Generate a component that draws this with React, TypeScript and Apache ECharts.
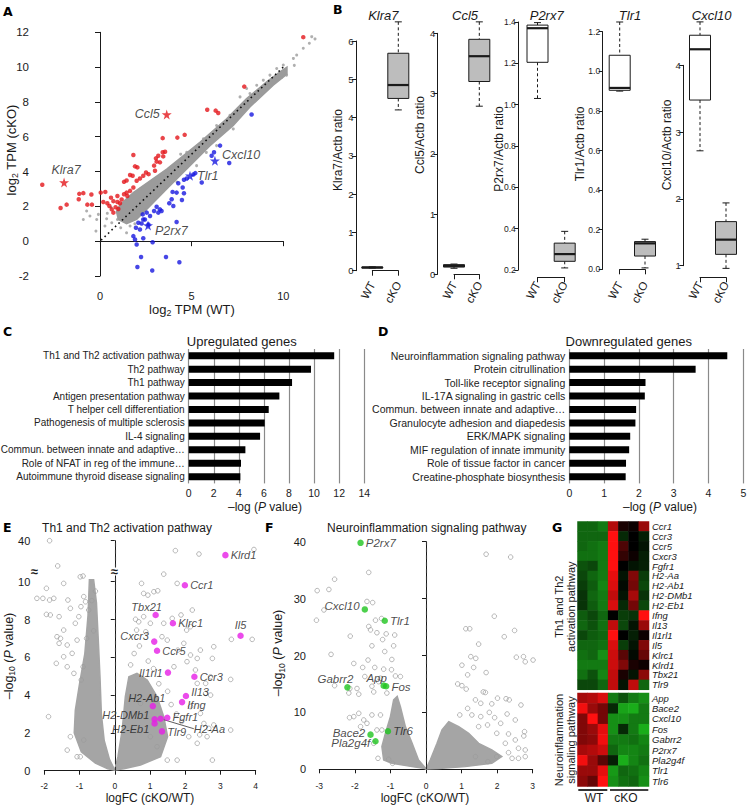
import React, { useEffect, useRef } from 'react';
import * as echarts from 'echarts';

// ---------------- Panel A: log2 TPM scatter ----------------
const aDenseBand = [[1.0,1.25],[0.9,1.7],[1.09,2.1],[1.82,2.79],[3.64,4.14],[5.45,5.68],[6.91,7.03],[8.0,8.19],[9.09,9.15],[9.82,9.73],[10.2,10.0],[10.2,9.6],[9.45,8.96],[8.18,7.71],[7.27,6.65],[6.0,5.49],[4.91,4.34],[3.64,3.0],[2.73,2.02],[2.0,1.25],[1.45,1.0]];
const aGray = [[-0.73,1.73],[-0.55,1.45],[-0.18,1.25],[-0.22,0.58],[0.27,0.87],[0.64,1.06],[-0.09,1.54],[0.36,1.29],[0.95,1.25],[-0.91,1.25],[1.13,0.77],[1.45,0.48],[1.64,0.87],[8.55,8.96],[8.91,9.25],[9.27,9.54],[9.64,9.92],[10.0,10.12],[10.18,9.54],[10.55,10.5],[10.73,10.69],[11.09,11.08],[11.42,11.37],[11.55,11.75],[11.73,11.62],[8.18,8.48],[8.0,8.77],[7.64,8.29],[2.73,2.79],[2.18,2.41],[4.73,5.11],[5.64,5.88],[6.36,6.65],[7.09,7.23],[7.27,6.45],[6.36,5.49],[5.27,4.34],[0.6,1.95],[0.4,1.6],[1.9,1.0],[2.4,1.8],[4.2,3.4],[3.0,2.5],[5.8,5.1],[8.6,8.2],[9.9,9.4],[10.6,10.1],[2.2,3.0],[4.4,5.0]];
const aUp = [[-3.15,3.24],[-2.15,1.91],[-1.82,2.1],[-1.13,2.72],[-0.91,2.76],[-1.16,2.41],[-0.69,2.1],[-0.44,2.1],[-0.47,2.68],[0.04,2.79],[0.29,2.83],[0.18,2.25],[0.4,2.18],[0.51,2.02],[0.64,1.83],[0.73,1.64],[0.95,2.25],[1.09,2.18],[1.31,3.41],[1.45,2.79],[1.64,2.89],[1.82,3.08],[1.91,4.3],[1.82,4.95],[2.04,4.24],[1.64,3.8],[1.78,3.76],[1.45,3.49],[2.0,3.47],[2.18,3.6],[2.36,3.76],[2.51,3.95],[2.65,3.85],[2.95,4.34],[3.09,4.57],[3.0,4.05],[3.27,4.53],[3.42,5.11],[3.45,4.87],[3.55,5.14],[3.05,4.76],[3.18,4.91],[3.42,5.92],[4.22,5.95],[4.62,6.11],[5.85,7.55],[6.31,7.5],[6.45,7.36],[7.87,8.88],[11.09,11.72],[0.73,2.3],[0.95,2.6],[1.18,2.4],[1.31,2.7],[1.49,2.6],[0.85,1.95],[1.0,1.85],[0.6,2.5]];
const aDown = [[6.09,4.91],[6.22,5.11],[6.55,5.49],[7.05,4.49],[8.27,7.28],[4.73,3.6],[4.58,3.53],[5.09,3.83],[5.2,3.91],[5.55,3.37],[4.27,3.33],[4.51,3.08],[4.18,2.79],[3.96,2.83],[4.58,2.75],[3.91,2.41],[3.78,2.18],[4.0,2.02],[4.47,2.37],[3.09,1.98],[3.27,1.83],[3.36,1.73],[3.18,1.64],[2.95,1.73],[2.55,1.64],[2.73,1.45],[2.45,1.25],[2.27,1.02],[2.64,0.96],[2.33,1.54],[2.36,1.25],[2.09,1.06],[1.96,0.77],[2.18,0.67],[1.82,0.29],[1.91,0.1],[2.0,-0.19],[2.36,0.17],[4.18,1.1],[2.87,-0.06],[2.24,-0.91],[3.6,-0.91],[4.33,-1.21],[2.04,-1.48],[2.85,-1.68]];
const aStarNames = ['Klra7', 'Ccl5', 'Cxcl10', 'Tlr1', 'P2rx7'];
const aStarWT = [-1.96, 3.64, 6.27, 4.91, 2.62];
const aStarKO = [3.37, 7.28, 4.62, 3.76, 0.9];
const aStarUp = [true, true, false, false, false];
const aDiagonal = [[-2.6, -2.6], [11.8, 11.8]];

// ---------------- Panel B: qPCR boxplots [min, q1, median, q3, max] ----------------
const bGenes = ['Klra7', 'Ccl5', 'P2rx7', 'Tlr1', 'Cxcl10'];
const bGroups = ['WT', 'cKO'];
const bKlra7 = [[0.07, 0.075, 0.085, 0.095, 0.1], [4.2, 4.5, 4.85, 5.68, 6.5]];
const bCcl5 = [[0.1, 0.12, 0.14, 0.16, 0.17], [2.79, 3.2, 3.62, 3.9, 4.19]];
const bP2rx7 = [[1.03, 1.205, 1.37, 1.385, 1.397], [0.21, 0.242, 0.277, 0.33, 0.387]];
const bTlr1 = [[0.9, 0.904, 0.916, 1.081, 1.249], [0.007, 0.067, 0.131, 0.14, 0.152]];
const bCxcl10 = [[2.72, 3.48, 4.24, 4.45, 4.65], [0.96, 1.17, 1.39, 1.66, 1.94]];
const bYMin = [0, 0, 0.2, 0, 1];
const bYMax = [6, 4, 1.4, 1.2, 4];
const bYStep = [1, 1, 0.2, 0.2, 1];

// ---------------- Panels C/D: pathway enrichment ----------------
const cPathways = ['Th1 and Th2 activation pathway', 'Th2 pathway', 'Th1 pathway', 'Antigen presentation pathway', 'T helper cell differentiation', 'Pathogenesis of multiple sclerosis', 'IL-4 signaling', 'Commun. between innate and adaptive…', 'Role of NFAT in reg of the immune…', 'Autoimmune thyroid disease signaling'];
const cValues = [11.6, 9.75, 8.24, 7.23, 6.38, 6.06, 5.69, 4.52, 4.17, 4.12];
const dPathways = ['Neuroinflammation signaling pathway', 'Protein citrullination', 'Toll-like receptor signaling', 'IL-17A signaling in gastric cells', 'Commun. between innate and adaptive…', 'Granulocyte adhesion and diapedesis', 'ERK/MAPK signaling', 'MIF regulation of innate immunity', 'Role of tissue factor in cancer', 'Creatine-phosphate biosynthesis'];
const dValues = [4.54, 3.63, 2.19, 2.17, 1.92, 1.9, 1.75, 1.72, 1.63, 1.62];

// ---------------- Panel E: volcano, Th1/Th2 ----------------
const eDenseLeft = [[0,0.03],[-0.15,0.6],[-0.3,1.6],[-0.38,3.0],[-0.42,5.0],[-0.47,7.0],[-0.52,8.9],[-0.6,10.1],[-0.72,10.1],[-0.76,8.2],[-0.85,6.2],[-1.0,4.6],[-1.12,3.2],[-1.15,2.0],[-0.95,1.0],[-0.55,0.4],[-0.2,0.1]];
const eDenseRight = [[0,0.03],[0.09,0.74],[0.21,2.15],[0.3,3.92],[0.4,4.97],[0.63,5.15],[0.92,4.8],[1.2,3.92],[1.39,2.86],[1.5,1.8],[1.3,0.74],[0.73,0.3],[0.26,0.1]];
const eOther = [[-1.85,40],[1.72,36.5],[2.39,35.3],[3.95,36.9],[-1.62,31.1],[1.39,10.4],[-2.21,9.12],[-2.04,9.12],[-1.94,9.65],[-1.85,9.03],[-1.73,9.12],[-1.45,9.91],[-1.94,8.27],[-1.83,8.24],[-1.58,8.15],[-1.33,9.03],[-1.26,8.59],[-0.98,10.26],[-0.9,10.3],[-0.88,9.21],[-0.83,8.94],[-0.96,8.68],[-0.74,8.5],[-1.64,7.09],[-1.54,7.0],[-1.45,7.44],[-1.58,6.74],[-1.35,6.65],[-1.66,5.68],[-1.45,6.03],[-1.21,6.21],[-1.35,5.5],[-1.16,5.15],[-1.07,6.91],[-1.12,7.8],[-1.02,8.15],[-1.88,2.86],[-1.07,0.74],[-0.98,0.74],[-0.88,1.62],[-1.26,1.8],[-1.35,1.09],[-0.6,7.4],[-0.55,9.5],[-0.65,9.0],[-0.8,7.0],[-0.9,5.5],[-0.95,4.8],[0.76,9.91],[0.82,9.38],[0.94,9.29],[1.11,9.47],[1.22,9.52],[1.77,9.91],[2.2,8.5],[1.63,8.06],[1.88,8.24],[2.04,7.44],[2.15,7.62],[0.82,8.15],[0.59,8.01],[0.68,7.88],[1.01,7.8],[0.62,7.44],[0.88,7.35],[1.39,7.8],[1.34,7.09],[1.49,6.91],[2.81,6.56],[2.77,5.94],[3.31,6.95],[3.9,6.95],[1.79,6.38],[1.96,6.74],[2.15,6.12],[2.34,5.94],[2.43,6.38],[3.29,4.83],[2.72,4.97],[2.58,4.62],[2.34,4.62],[2.58,4.09],[2.72,4.0],[2.29,5.33],[2.05,5.77],[1.68,5.5],[2.15,3.39],[2.43,3.03],[2.53,2.5],[2.67,2.24],[2.81,2.42],[3.29,2.15],[2.1,1.8],[2.34,1.45],[2.62,1.8],[2.41,1.9],[2.77,0.56],[1.77,0.56],[1.49,0.56],[1.2,1.27],[1.01,1.8],[0.87,2.86],[0.73,3.56],[0.54,3.92],[0.45,5.6],[0.55,6.2],[0.7,6.6],[0.95,5.8],[1.1,5.4],[1.25,4.6],[1.5,4.2],[1.6,3.5],[1.75,3.0],[1.9,2.6]];
const eHitNames = ['Klrd1','Ccr1','Tbx21','Klrc1','Il5','Cxcr3','Ccr5','Il1rl1','Ccr3','Il13','Ifng','H2-Ab1','Fgfr1','H2-DMb1','H2-Aa','H2-Eb1','Tlr9'];
const eHitFC = [3.14,1.99,1.16,1.65,3.57,1.12,1.2,1.51,2.26,2.02,1.91,1.08,1.49,1.13,1.3,1.13,1.34];
const eHitP = [34.9,9.81,8.24,7.8,7.14,6.83,6.35,5.19,4.97,3.95,3.63,3.42,2.8,2.72,2.75,2.5,2.08];
const eThreshold = 1.9;

// ---------------- Panel F: volcano, neuroinflammation ----------------
const fDenseLeft = [[0,0.1],[-0.21,1.64],[-0.39,4.57],[-0.58,7.5],[-0.72,11.0],[-0.81,12.8],[-0.91,12.2],[-1.0,9.26],[-1.14,6.33],[-1.24,3.98],[-1.19,1.64],[-0.96,1.05],[-0.39,0.47]];
const fDenseRight = [[0,0.05],[0.12,1.64],[0.31,4.57],[0.45,6.91],[0.64,8.38],[0.92,7.5],[1.2,6.33],[1.48,4.57],[1.85,3.4],[2.13,2.23],[1.85,1.05],[1.1,0.47],[0.36,0.12]];
const fOther = [[-3.06,31.4],[-3.08,26.2],[-2.87,28.0],[-2.73,31.6],[-2.57,33.4],[-1.61,34.6],[-1.66,29.5],[-1.5,29.3],[-1.42,26.2],[-1.25,26.5],[-1.61,25.1],[-1.56,24.5],[-2.13,23.4],[-1.38,24.0],[-1.12,23.8],[-0.88,23.6],[-1.22,22.8],[-1.52,21.7],[-1.16,20.7],[-0.91,21.7],[-1.63,19.2],[-0.96,19.3],[-2.67,20.2],[-2.03,18.6],[-1.78,17.9],[-1.44,17.9],[-1.19,17.6],[-0.97,17.5],[-0.72,16.3],[-1.72,16.3],[-1.28,16.0],[-0.86,16.4],[-1.52,14.6],[-1.33,15.4],[-2.14,14.2],[-1.94,14.2],[-2.57,14.7],[-2.17,13.4],[-1.89,13.2],[-1.47,13.6],[-1.1,13.4],[-2.03,9.26],[-2.15,9.08],[-1.89,9.84],[-1.75,8.67],[-1.84,7.5],[-1.66,8.08],[-1.52,9.55],[-1.28,9.55],[-1.38,6.91],[-1.35,1.93],[-1.05,1.76],[-0.94,1.05],[-1.24,6.91],[-1.47,4.57],[1.69,37.8],[2.38,37.3],[1.92,26.9],[1.12,24.7],[1.23,24.7],[2.49,24.4],[2.2,23.3],[1.48,22.0],[3.01,19.2],[2.54,19.7],[2.74,19.8],[2.79,18.9],[1.26,19.8],[1.4,19.5],[1.01,18.3],[1.17,16.6],[1.34,17.9],[1.69,17.0],[0.89,15.0],[1.01,14.7],[1.13,14.1],[1.61,13.6],[1.67,13.5],[2.01,12.5],[1.39,12.2],[1.54,11.6],[1.85,11.5],[2.25,12.4],[2.34,12.2],[2.67,11.3],[1.17,10.7],[0.95,9.55],[1.29,9.55],[1.54,9.26],[1.78,10.0],[1.93,9.08],[2.28,9.72],[2.51,8.67],[2.1,8.08],[1.48,7.5],[1.73,7.79],[1.99,6.33],[2.32,6.21],[2.77,6.62],[2.75,5.86],[2.51,5.16],[2.23,4.57],[2.6,3.69],[2.79,3.4],[2.32,2.93],[1.99,2.23],[2.42,1.93],[2.6,1.93],[1.74,1.35],[1.39,2.23],[2.79,2.23]];
const fHitNames = ['P2rx7','Cxcl10','Tlr1','Gabrr2','App','Fos','Bace2','Tlr6','Pla2g4f'];
const fHitFC = [-1.84,-1.72,-1.16,-2.21,-1.19,-1.12,-1.56,-1.07,-1.42];
const fHitP = [39.8,28.1,26.1,14.4,14.7,14.6,6.09,6.68,4.92];
const fThreshold = 2.0;

// ---------------- Panel G: heatmap ----------------
const gSamples = ['WT1', 'WT2', 'WT3', 'cKO1', 'cKO2', 'cKO3', 'cKO4'];
const gTopGenes = ['Ccr1','Ccr3','Ccr5','Cxcr3','Fgfr1','H2-Aa','H2-Ab1','H2-DMb1','H2-Eb1','Ifng','Il13','Il1rl1','Il5','Klrc1','Klrd1','Tbx21','Tlr9'];
const gTopVals = [
  [-0.5,-0.5,-0.6,0.7,0.1,0.05,0.6],
  [-0.5,-0.5,-0.5,1.0,-0.2,0,-0.15],
  [-0.5,-0.55,-0.6,1.0,0.3,0,-0.1],
  [-0.55,-0.55,-0.6,1.0,0.2,0.05,-0.15],
  [-0.4,-0.35,-0.6,1.0,0,-0.1,-0.15],
  [-0.35,-0.5,-0.6,0.9,-0.1,0.5,-0.3],
  [-0.3,-0.45,-0.65,0.85,-0.05,0.45,-0.35],
  [-0.25,-0.5,-0.6,0.75,-0.1,0.65,-0.25],
  [-0.25,-0.45,-0.6,0.85,-0.2,0.45,-0.35],
  [-0.45,-0.35,-0.5,0,-0.3,-0.25,1.0],
  [-0.5,-0.4,-0.55,0.75,-0.35,-0.1,0.6],
  [-0.35,-0.45,-0.5,1.0,0,-0.15,0.05],
  [-0.5,-0.5,-0.55,0.85,-0.3,-0.1,0.5],
  [-0.55,-0.5,-0.7,0.8,0.35,-0.05,0.4],
  [-0.6,-0.6,-0.6,0.8,0.5,0.1,0.05],
  [-0.55,-0.4,-0.65,0.75,0.1,-0.1,0.55],
  [-0.35,-0.35,-0.5,0.75,-0.1,0.75,-0.5],
];
const gBotGenes = ['App','Bace2','Cxcl10','Fos','Gabrr2','P2rx7','Pla2g4f','Tlr1','Tlr6'];
const gBotVals = [
  [0.65,0.7,0.85,-0.6,-0.4,-0.6,-0.7],
  [0.95,0.6,0.45,-0.2,-0.8,-0.85,-0.6],
  [0.5,1.0,0.45,-0.7,-0.7,-0.6,-0.6],
  [0.5,0.6,0.9,-0.7,-0.2,-0.6,-0.85],
  [0.5,0.55,0.95,-0.6,-0.6,-0.55,-0.65],
  [0.65,0.7,0.8,-0.5,-0.65,-0.65,-0.6],
  [0.95,0.6,0.35,-0.15,-0.85,-0.65,-0.55],
  [0.6,0.6,0.9,-0.75,-0.5,-0.55,-0.65],
  [0.55,0.4,1.0,-0.7,-0.55,-0.5,-0.7],
];

// ======================================================
const FONT = '"Liberation Sans", Arial, Helvetica, sans-serif';
const INK = '#1a1a1a';
const GRAY = '#9b9b9b';
const STAR = 'path://M50,0 L61,35 L98,35 L68,57 L79,91 L50,70 L21,91 L32,57 L2,35 L39,35 Z';

// E axis break: values above the break are compressed into the top segment
const eY = (v: number) => (v <= 10.45 ? v : 10.67 + (v - 30) * 0.15);

const polySeries = (gi: number, polys: number[][][], color: string) => ({
  type: 'custom', xAxisIndex: gi, yAxisIndex: gi, coordinateSystem: 'cartesian2d',
  silent: true, clip: false, z: 1,
  data: [polys[0][0]], encode: { x: 0, y: 1 },
  renderItem: (_p: any, api: any) => ({
    type: 'group',
    children: polys.map((poly) => ({
      type: 'polygon',
      shape: { points: poly.map((pt) => api.coord(pt)) },
      style: { fill: color, stroke: color, lineWidth: 1.5 },
    })),
  }),
});

const boxSeries = (gi: number, stats: number[][], fills: string[]) => ({
  type: 'custom', xAxisIndex: gi, yAxisIndex: gi, coordinateSystem: 'cartesian2d',
  silent: true, clip: false,
  data: stats.map((s, i) => [i, ...s]),
  encode: { x: 0, y: [1, 2, 3, 4, 5] },
  renderItem: (params: any, api: any) => {
    const i = api.value(0);
    const p = (k: number) => api.coord([i, api.value(k)]);
    const cx = p(1)[0];
    const yMin = p(1)[1], yQ1 = p(2)[1], yMed = p(3)[1], yQ3 = p(4)[1], yMax = p(5)[1];
    const hw = 10.5, cw = 3.5;
    const solid = { stroke: INK, lineWidth: 1 };
    const dash = { stroke: INK, lineWidth: 1, lineDash: [3, 2.5] };
    return {
      type: 'group',
      children: [
        { type: 'line', shape: { x1: cx, y1: yMax, x2: cx, y2: yQ3 }, style: dash },
        { type: 'line', shape: { x1: cx, y1: yQ1, x2: cx, y2: yMin }, style: dash },
        { type: 'line', shape: { x1: cx - cw, y1: yMax, x2: cx + cw, y2: yMax }, style: solid },
        { type: 'line', shape: { x1: cx - cw, y1: yMin, x2: cx + cw, y2: yMin }, style: solid },
        { type: 'rect', shape: { x: cx - hw, y: yQ3, width: 2 * hw, height: Math.max(yQ1 - yQ3, 1) }, style: { fill: fills[params.dataIndex], stroke: INK, lineWidth: 1 } },
        { type: 'line', shape: { x1: cx - hw, y1: yMed, x2: cx + hw, y2: yMed }, style: { stroke: INK, lineWidth: 2.2 } },
      ],
    };
  },
});

const App = () => {
  const ref = useRef<HTMLDivElement>(null);
  useEffect(() => {
    document.body.style.margin = '0';
    if (!ref.current) return;
    const chart = echarts.init(ref.current, null, { renderer: 'svg' });

    const grids = [
      { left: 100, top: 32.3, width: 183.3, height: 243.7 },
      { left: 372.3, top: 41, width: 26, height: 229.7 },
      { left: 454, top: 33.3, width: 25.3, height: 241 },
      { left: 537.5, top: 22, width: 27.2, height: 248 },
      { left: 619.7, top: 31.7, width: 25.3, height: 237.6 },
      { left: 700, top: 65.3, width: 26, height: 200.4 },
      { left: 188.7, top: 349, width: 175.6, height: 134.4 },
      { left: 569.3, top: 349, width: 174, height: 134.4 },
      { left: 44.3, top: 540.7, width: 211.4, height: 230 },
      { left: 319.3, top: 541.7, width: 213.4, height: 227.6 },
      { left: 577.5, top: 521.5, width: 71.5, height: 168.3 },
      { left: 577.5, top: 693, width: 71.5, height: 93.5 },
    ].map((g) => ({ ...g, containLabel: false, outerBoundsMode: 'none' }));

    const axLine = { show: true, lineStyle: { color: INK, width: 1 } };
    const tick = (len: number) => ({ show: true, length: len, lineStyle: { color: INK, width: 1 } });
    const noSplit = { show: false };

    const bYOffset = [16.3, 16.3, 19.2, 17, 16.7];
    const bXOffset = [6.6, 3, 7.3, 8, 11.6];

    const xAxis: any[] = [
      { gridIndex: 0, type: 'value', min: 0, max: 10, interval: 5, offset: 10, axisLine: axLine, axisTick: tick(5), axisLabel: { fontSize: 11, color: INK, margin: 4 }, splitLine: noSplit },
      ...bGenes.map((_, i) => ({
        gridIndex: i + 1, type: 'category', data: bGroups, boundaryGap: false, offset: bXOffset[i],
        axisLine: axLine, axisTick: tick(5), splitLine: noSplit,
        axisLabel: { interval: 0, rotate: 62, fontSize: 11.5, color: INK, margin: 5 },
      })),
      { gridIndex: 6, type: 'value', min: 0, max: 14, interval: 2, axisLine: { show: false }, axisTick: { show: false }, axisLabel: { fontSize: 10.5, color: INK, margin: 4 }, splitLine: { show: true, lineStyle: { color: '#8a8a8a', width: 1.2 } } },
      { gridIndex: 7, type: 'value', min: 0, max: 5, interval: 1, axisLine: { show: false }, axisTick: { show: false }, axisLabel: { fontSize: 10.5, color: INK, margin: 4 }, splitLine: { show: true, lineStyle: { color: '#8a8a8a', width: 1.2 } } },
      { gridIndex: 8, type: 'value', min: -2, max: 4, interval: 1, offset: 8, axisLine: axLine, axisTick: tick(4), axisLabel: { fontSize: 8.5, color: INK, margin: 3 }, splitLine: noSplit },
      { gridIndex: 9, type: 'value', min: -3, max: 3, interval: 1, offset: 9, axisLine: axLine, axisTick: tick(4), axisLabel: { fontSize: 8.5, color: INK, margin: 3 }, splitLine: noSplit },
      { gridIndex: 10, type: 'category', data: gSamples, show: false },
      { gridIndex: 11, type: 'category', data: gSamples, show: false },
    ];

    const eTicks = [0, 2, 4, 6, 8, 10, eY(40)];
    const yAxis: any[] = [
      { gridIndex: 0, type: 'value', min: -2, max: 12, interval: 2, offset: 66, axisLine: axLine, axisTick: tick(5), axisLabel: { fontSize: 11.5, color: INK, margin: 5 }, splitLine: noSplit },
      ...bGenes.map((_, i) => ({
        gridIndex: i + 1, type: 'value', min: bYMin[i], max: bYMax[i], interval: bYStep[i], offset: bYOffset[i],
        axisLine: axLine, axisTick: tick(4), splitLine: noSplit,
        axisLabel: { fontSize: bYStep[i] < 1 ? 8.5 : 9.5, color: INK, margin: 2.5, formatter: (v: number) => (bYStep[i] < 1 ? v.toFixed(1) : String(v)) },
      })),
      { gridIndex: 6, type: 'category', inverse: true, data: cPathways, axisLine: { show: false }, axisTick: { show: false }, axisLabel: { interval: 0, fontSize: 10, color: '#222', margin: 4 } },
      { gridIndex: 7, type: 'category', inverse: true, data: dPathways, axisLine: { show: false }, axisTick: { show: false }, axisLabel: { interval: 0, fontSize: 10.5, color: '#222', margin: 4 } },
      { gridIndex: 8, type: 'value', min: 0, max: eY(40), offset: 10, axisLine: axLine, splitLine: noSplit,
        axisTick: { show: true, length: 4, customValues: eTicks, lineStyle: { color: INK } },
        axisLabel: { customValues: eTicks, fontSize: 11, color: INK, margin: 4, formatter: (v: number) => (v > 11 ? '40' : String(Math.round(v))) } },
      { gridIndex: 9, type: 'value', min: 0, max: 40, interval: 10, offset: 9.3, axisLine: axLine, axisTick: tick(4), axisLabel: { fontSize: 11, color: INK, margin: 4 }, splitLine: noSplit },
      { gridIndex: 10, type: 'category', inverse: true, position: 'right', data: gTopGenes, axisLine: { show: false }, axisTick: { show: false }, axisLabel: { interval: 0, fontSize: 9.5, fontStyle: 'italic', color: INK, margin: 3 } },
      { gridIndex: 11, type: 'category', inverse: true, position: 'right', data: gBotGenes, axisLine: { show: false }, axisTick: { show: false }, axisLabel: { interval: 0, fontSize: 9.5, fontStyle: 'italic', color: INK, margin: 3 } },
    ];

    const labelBase = { show: true, formatter: '{b}', fontStyle: 'italic', color: INK, distance: 2 };
    const aLabelPos: any = { Klra7: { position: 'top', offset: [2, 1] }, Ccl5: { position: 'left' }, Cxcl10: { position: 'right', offset: [0, -6] }, Tlr1: { position: 'right' }, P2rx7: { position: 'right', offset: [0, 5] } };
    // E: label side and [dx, dy] shift applied through labelLayout
    const eLabelPos: any = {
      Klrd1: ['right', 0, 0], Ccr1: ['right', 0, 0], Tbx21: ['top', -9, 3], Klrc1: ['right', 0, 0],
      Il5: ['top', 0, 0], Cxcr3: ['left', 0, -6], Ccr5: ['right', 0, 0], Il1rl1: ['left', 0, 0],
      Ccr3: ['right', 0, 0], Il13: ['right', 0, -4], Ifng: ['right', 0, 3],
      'H2-Ab1': ['top', -6, 3], Fgfr1: ['right', 0, -1], 'H2-DMb1': ['left', 0, -4],
      'H2-Aa': ['right', 28, 10], 'H2-Eb1': ['left', 0, 6], Tlr9: ['right', 0, 1],
    };
    const fLabelPos: any = {
      P2rx7: { position: 'right' }, Cxcl10: { position: 'left', offset: [0, -3] }, Tlr1: { position: 'right' },
      Gabrr2: { position: 'top', offset: [-12, 3] }, App: { position: 'top', offset: [-7, 4] }, Fos: { position: 'right', offset: [0, 1] },
      Bace2: { position: 'left', offset: [0, -2] }, Tlr6: { position: 'right' }, Pla2g4f: { position: 'left', offset: [0, 2] },
    };

    const hollow = { color: 'rgba(0,0,0,0)', borderColor: GRAY, borderWidth: 0.9 };
    const h2aaIndex = eHitNames.indexOf('H2-Aa');

    const series: any[] = [
      // A
      polySeries(0, [aDenseBand], GRAY),
      { type: 'scatter', xAxisIndex: 0, yAxisIndex: 0, data: aGray, symbolSize: 3, itemStyle: { color: GRAY }, clip: false, silent: true },
      { type: 'line', xAxisIndex: 0, yAxisIndex: 0, data: aDiagonal, symbol: 'none', lineStyle: { color: '#111', width: 1.6, type: [1.6, 3.2] }, clip: false, silent: true },
      { type: 'scatter', xAxisIndex: 0, yAxisIndex: 0, data: aUp, symbolSize: 4.5, itemStyle: { color: '#e3161c' }, clip: false, silent: true },
      { type: 'scatter', xAxisIndex: 0, yAxisIndex: 0, data: aDown, symbolSize: 4.5, itemStyle: { color: '#1818e0' }, clip: false, silent: true },
      {
        type: 'scatter', xAxisIndex: 0, yAxisIndex: 0, symbol: STAR, symbolSize: 10, clip: false, silent: true,
        data: aStarNames.map((n, i) => ({ name: n, value: [aStarWT[i], aStarKO[i]], itemStyle: { color: aStarUp[i] ? '#e3161c' : '#1818e0' }, label: { ...labelBase, fontSize: 12.5, ...aLabelPos[n] } })),
      },
      // B
      boxSeries(1, bKlra7, ['#bdbdbd', '#bdbdbd']),
      boxSeries(2, bCcl5, ['#bdbdbd', '#bdbdbd']),
      boxSeries(3, bP2rx7, ['#ffffff', '#bdbdbd']),
      boxSeries(4, bTlr1, ['#ffffff', '#bdbdbd']),
      boxSeries(5, bCxcl10, ['#ffffff', '#bdbdbd']),
      // C, D
      { type: 'bar', xAxisIndex: 6, yAxisIndex: 6, data: cValues, barWidth: 7, itemStyle: { color: '#000' }, silent: true },
      { type: 'bar', xAxisIndex: 7, yAxisIndex: 7, data: dValues, barWidth: 7, itemStyle: { color: '#000' }, silent: true },
      // E
      polySeries(8, [eDenseLeft, eDenseRight], '#a5a5a5'),
      {
        type: 'scatter', xAxisIndex: 8, yAxisIndex: 8, data: eOther.map((p) => [p[0], eY(p[1])]), symbolSize: 4.6, itemStyle: hollow, clip: false, silent: true,
        markLine: {
          silent: true, symbol: 'none', label: { show: false },
          data: [
            { xAxis: 0, lineStyle: { type: [4, 3], color: '#333', width: 1.1 } },
            [{ coord: [-2.28, eThreshold], lineStyle: { type: 'solid', color: '#5656c8', width: 1.3 } }, { coord: [4.13, eThreshold] }],
          ],
        },
      },
      {
        type: 'scatter', xAxisIndex: 8, yAxisIndex: 8, symbolSize: 6.5, itemStyle: { color: '#e61ee6' }, clip: false, silent: true,
        labelLayout: (p: any) => {
          const s = eLabelPos[eHitNames[p.dataIndex]];
          return { dx: s[1], dy: s[2] };
        },
        data: eHitNames.map((n, i) => ({
          name: n, value: [eHitFC[i], eY(eHitP[i])],
          label: { ...labelBase, fontSize: 11, position: eLabelPos[n][0] },
          labelLine: { show: i === h2aaIndex, lineStyle: { color: '#333', width: 0.8 } },
        })),
      },
      // F
      polySeries(9, [fDenseLeft, fDenseRight], '#a5a5a5'),
      {
        type: 'scatter', xAxisIndex: 9, yAxisIndex: 9, data: fOther, symbolSize: 4.6, itemStyle: hollow, clip: false, silent: true,
        markLine: {
          silent: true, symbol: 'none', label: { show: false },
          data: [
            { xAxis: 0, lineStyle: { type: [4, 3], color: '#333', width: 1.1 } },
            [{ coord: [-3.26, fThreshold], lineStyle: { type: 'solid', color: '#5656c8', width: 1.3 } }, { coord: [3.08, fThreshold] }],
          ],
        },
      },
      {
        type: 'scatter', xAxisIndex: 9, yAxisIndex: 9, symbolSize: 6.5, itemStyle: { color: '#1fc41f' }, clip: false, silent: true,
        data: fHitNames.map((n, i) => ({ name: n, value: [fHitFC[i], fHitP[i]], label: { ...labelBase, fontSize: 11.5, ...fLabelPos[n] } })),
      },
      // G
      { type: 'heatmap', xAxisIndex: 10, yAxisIndex: 10, silent: true, data: gTopVals.flatMap((row, r) => row.map((v, c) => [c, r, v])) },
      { type: 'heatmap', xAxisIndex: 11, yAxisIndex: 11, silent: true, data: gBotVals.flatMap((row, r) => row.map((v, c) => [c, r, v])) },
    ];
    const heatIdx = [series.length - 2, series.length - 1];

    const txt = (x: number, y: number, text: string, o: any = {}, rot = 0, rich?: any) => ({
      type: 'text', x, y, rotation: rot, z: 100, silent: true,
      style: { text, fontFamily: FONT, fontSize: 12, fill: INK, align: 'center', verticalAlign: 'middle', ...o, ...(rich ? { rich } : {}) },
    });
    const letter = (x: number, y: number, t: string) => ({ type: 'text', x, y, z: 100, silent: true, style: { text: t, fontFamily: '"DejaVu Sans", Arial, sans-serif', fontWeight: 'bold', fontSize: 12.5, fill: '#000', align: 'left', verticalAlign: 'top' } });
    const subRich = (fs: number) => ({
      n: { fontSize: fs, fontFamily: FONT, fill: INK, lineHeight: fs + 4, verticalAlign: 'middle' },
      s: { fontSize: fs * 0.68, fontFamily: FONT, fill: INK, lineHeight: fs + 4, verticalAlign: 'bottom' },
      i: { fontSize: fs, fontFamily: FONT, fill: INK, fontStyle: 'italic', lineHeight: fs + 4, verticalAlign: 'middle' },
    });
    const R90 = Math.PI / 2;

    const bTitleX = [383.3, 465, 546.7, 630, 711.7];
    const bNameX = [338.3, 420, 499, 580, 667.3];
    const bNameY = [150, 135, 149, 144, 145];

    const graphic: any[] = [
      letter(3, 5, 'A'), letter(333, 3, 'B'), letter(3, 325, 'C'), letter(378, 325, 'D'),
      letter(3, 521, 'E'), letter(265, 521, 'F'), letter(552, 521, 'G'),
      txt(11, 150, '{n|log}{s|2}{n| TPM (cKO)}', {}, R90, subRich(13)),
      txt(192, 309, '{n|log}{s|2}{n| TPM (WT)}', {}, 0, subRich(13)),
      ...bGenes.map((g, i) => txt(bTitleX[i], 15, g, { fontSize: 13, fontStyle: 'italic' })),
      ...bGenes.map((g, i) => txt(bNameX[i], bNameY[i], `${g}/Actb ratio`, { fontSize: 12 }, R90)),
      txt(241.7, 341.7, 'Upregulated genes', { fontSize: 13 }),
      txt(628.8, 341.7, 'Downregulated genes', { fontSize: 13 }),
      txt(265, 507, '{n|–log (}{i|P}{n| value)}', {}, 0, subRich(12)),
      txt(660, 507, '{n|–log (}{i|P}{n| value)}', {}, 0, subRich(12)),
      txt(127, 528, 'Th1 and Th2 activation pathway', { fontSize: 12 }),
      txt(426.7, 528.3, 'Neuroinflammation signaling pathway', { fontSize: 12 }),
      txt(150, 797.7, 'logFC (cKO/WT)', { fontSize: 12 }),
      txt(425, 797.7, 'logFC (cKO/WT)', { fontSize: 12 }),
      txt(8.5, 656, '{n|–log}{s|10}{n| (}{i|P}{n| value)}', {}, R90, subRich(12.5)),
      txt(278.3, 653, '{n|–log}{s|10}{n| (}{i|P}{n| value)}', {}, R90, subRich(12.5)),
      { type: 'rect', z: 99, silent: true, shape: { x: 28, y: 567.5, width: 12, height: 8 }, style: { fill: '#fff' } },
      { type: 'rect', z: 99, silent: true, shape: { x: 108, y: 567.5, width: 12, height: 8 }, style: { fill: '#fff' } },
      txt(34.3, 571.5, '≈', { fontSize: 13, fontWeight: 'bold' }),
      txt(114.3, 571.5, '≈', { fontSize: 13, fontWeight: 'bold' }),
      txt(565, 606.7, 'Th1 and Th2\nactivation pathway', { fontSize: 11, lineHeight: 11.5 }, R90),
      txt(565, 740, 'Neuroinflammation\nsignaling pathway', { fontSize: 11, lineHeight: 11.5 }, R90),
      { type: 'line', z: 100, silent: true, shape: { x1: 578.3, y1: 790, x2: 607.3, y2: 790 }, style: { stroke: '#000', lineWidth: 1.6 } },
      { type: 'line', z: 100, silent: true, shape: { x1: 610, y1: 790, x2: 648.3, y2: 790 }, style: { stroke: '#000', lineWidth: 1.6 } },
      txt(594, 798, 'WT', { fontSize: 12 }),
      txt(626, 798, 'cKO', { fontSize: 12 }),
    ];

    chart.setOption({
      animation: false,
      backgroundColor: '#fff',
      textStyle: { fontFamily: FONT },
      grid: grids,
      xAxis,
      yAxis,
      visualMap: [{ type: 'continuous', show: false, min: -1, max: 1, dimension: 2, seriesIndex: heatIdx, inRange: { color: ['#1fcc1f', '#000000', '#ff1010'] } }],
      series,
      graphic,
    });
    return () => chart.dispose();
  }, []);
  return <div ref={ref} style={{ width: 751, height: 809 }} />;
};

export default App;
